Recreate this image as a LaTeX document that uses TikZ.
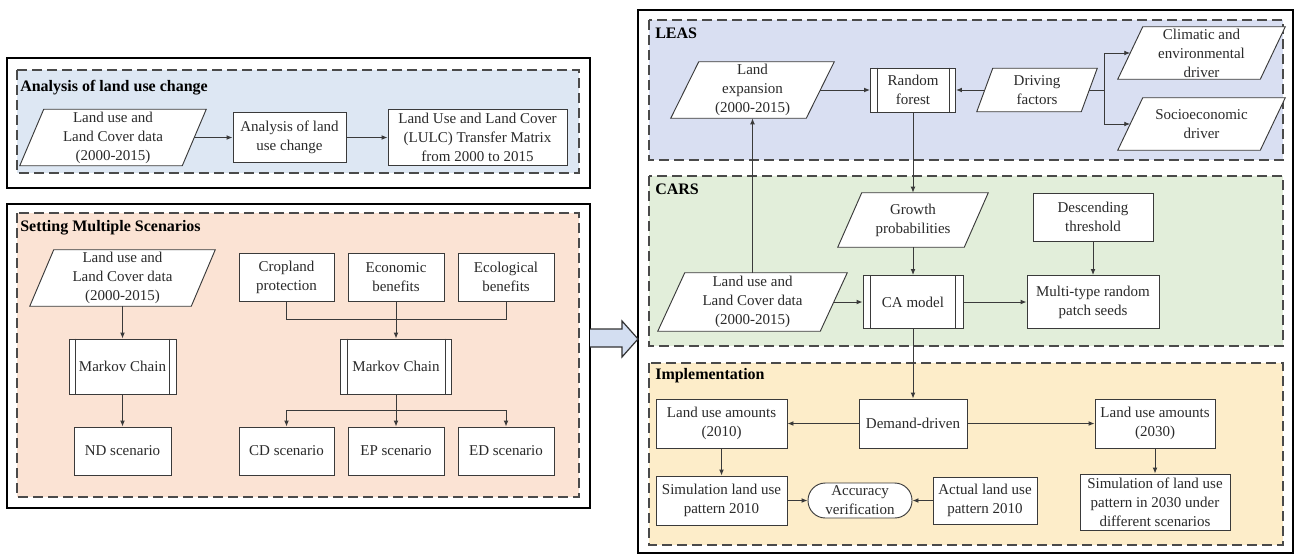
\documentclass[tikz,border=0pt]{standalone}
\usepackage{fontspec}
\setmainfont{Liberation Serif}
\usetikzlibrary{calc,arrows.meta}
\pgfdeclarelayer{bg}
\pgfdeclarelayer{mid}
\pgfsetlayers{bg,mid,main}
\definecolor{lc}{HTML}{3A3A3A}
\definecolor{tc}{HTML}{2A2A2A}
\definecolor{dc}{HTML}{4A4A4A}
\definecolor{fillA}{HTML}{DDE7F3}
\definecolor{fillS}{HTML}{FBE3D4}
\definecolor{fillL}{HTML}{D9DFF2}
\definecolor{fillC}{HTML}{E2EEDA}
\definecolor{fillI}{HTML}{FDEDC9}
\definecolor{arrowblue}{HTML}{D3DEF1}
\newcommand{\myfs}{\fontsize{11.25}{14.25}\selectfont}
\newcommand{\mytf}{\fontsize{12}{14}\selectfont}
\tikzset{
 box/.style={draw=lc, line width=0.7pt, fill=white, inner sep=0pt, align=center, font=\myfs, text=tc},
 ptxt/.style={inner sep=0pt, align=center, font=\myfs, text=tc},
 sz/.style 2 args={minimum width={#1*0.75pt}, minimum height={#2*0.75pt}},
 arr/.style={draw=lc, line width=0.7pt, -{Latex[length=4.5pt,width=3.6pt]}},
 ln/.style={draw=lc, line width=0.7pt},
 outerbox/.style={draw=black, line width=1.6pt},
 dashbox/.style={draw=dc, line width=1.1pt, dash pattern=on 7.5pt off 3.75pt},
 ttl/.style={anchor=west, inner sep=0pt, font=\bfseries\mytf, text=black}
}
\newcommand{\drawpara}[2]{%
 \begin{pgfonlayer}{mid}
 \draw[ln, fill=white] ($(#1.north west)+(#2,0)$) -- ($(#1.north east)+(#2,0)$) -- ($(#1.south east)-(#2,0)$) -- ($(#1.south west)-(#2,0)$) -- cycle;
 \end{pgfonlayer}}
\newcommand{\drawproc}[2]{%
 \draw[ln] ($(#1.north west)+(#2,0)$) -- ($(#1.south west)+(#2,0)$);
 \draw[ln] ($(#1.north east)-(#2,0)$) -- ($(#1.south east)-(#2,0)$);}
\begin{document}
\begin{tikzpicture}[x=0.75pt,y=-0.75pt]
\useasboundingbox (0,0) rectangle (1294,554);
\begin{pgfonlayer}{bg}
 \fill[white] (0,0) rectangle (1294,554);
 % left panels
 \draw[outerbox] (7,58) rectangle (590,188);
 \draw[dashbox, fill=fillA] (17,70) rectangle (579,173);
 \draw[outerbox] (7,204) rectangle (590,508);
 \draw[dashbox, fill=fillS] (17,213) rectangle (579,497);
 % right panel
 \draw[outerbox] (638,10) rectangle (1293,553);
 \draw[dashbox, fill=fillL] (649,20) rectangle (1283,160);
 \draw[dashbox, fill=fillC] (649,176) rectangle (1283,346);
 \draw[dashbox, fill=fillI] (649,363) rectangle (1283,545);
\end{pgfonlayer}

% ---------- Analysis of land use change ----------
\node[ttl] (t1) at (20,88) {Analysis of land use change};
\node[ptxt, sz={162}{56}] (p1) at (113,137.5) {Land use and\\Land Cover data\\(2000-2015)};
\drawpara{p1}{12}
\node[box, sz={113}{50}] (a1) at (289.5,137.5) {Analysis of land\\use change};
\node[box, sz={179}{56}] (m1) at (477.5,137.5) {Land Use and Land Cover\\(LULC) Transfer Matrix\\from 2000 to 2015};
\draw[arr] (p1.east) -- (a1.west);
\draw[arr] (a1.east) -- (m1.west);

% ---------- Setting Multiple Scenarios ----------
\node[ttl] (t2) at (20,228) {Setting Multiple Scenarios};
\node[ptxt, sz={161}{56}] (p2) at (122.5,278) {Land use and\\Land Cover data\\(2000-2015)};
\drawpara{p2}{12}
\node[box, sz={107}{55}] (mk1) at (122.5,366.5) {Markov Chain};
\drawproc{mk1}{7}
\node[box, sz={97}{48}] (nd) at (122.5,451) {ND scenario};
\draw[arr] (p2.south) -- (mk1.north);
\draw[arr] (mk1.south) -- (nd.north);

\node[box, sz={95}{48}] (cp) at (286.5,277) {Cropland\\protection};
\node[box, sz={96}{48}] (eb) at (396,277) {Economic\\benefits};
\node[box, sz={96}{48}] (ecb) at (506,277) {Ecological\\benefits};
\node[box, sz={111}{55}] (mk2) at (396,366.5) {Markov Chain};
\drawproc{mk2}{7}
\node[box, sz={95}{48}] (cd) at (286.5,451) {CD scenario};
\node[box, sz={96}{48}] (ep) at (396,451) {EP scenario};
\node[box, sz={96}{48}] (ed) at (506,451) {ED scenario};
\coordinate (jt) at (396,319);
\coordinate (jb) at (396,410);
\draw[ln] (cp.south) -- (cp.south |- jt) -- (ecb.south |- jt) -- (ecb.south);
\draw[arr] (eb.south) -- (mk2.north);
\draw[ln] (mk2.south) -- (jb);
\draw[ln] (cd.north |- jb) -- (ed.north |- jb);
\draw[arr] (cd.north |- jb) -- (cd.north);
\draw[arr] (jb) -- (ep.north);
\draw[arr] (ed.north |- jb) -- (ed.north);

% ---------- big arrow ----------
\draw[fill=arrowblue, draw=black!80, line width=0.9pt] (590,329) -- (622,329) -- (622,321) -- (638,339) -- (622,357) -- (622,347) -- (590,347);

% ---------- LEAS ----------
\node[ttl] (t3) at (655,33) {LEAS};
\node[ptxt, sz={135}{56}] (le) at (752.5,90) {Land\\expansion\\(2000-2015)};
\drawpara{le}{14}
\node[box, sz={85}{44}] (rf) at (913,90) {Random\\forest};
\drawproc{rf}{7}
\node[ptxt, sz={104}{43}] (df) at (1037,90) {Driving\\factors};
\drawpara{df}{8}
\node[ptxt, sz={142}{52}] (cl) at (1201.5,53) {Climatic and\\environmental\\driver};
\drawpara{cl}{12.5}
\node[ptxt, sz={142}{52}] (so) at (1201.5,124) {Socioeconomic\\driver};
\drawpara{so}{12.5}
\coordinate (jd) at (1104,90);
\draw[arr] (le.east) -- (rf.west);
\draw[arr] (df.west) -- (rf.east);
\draw[ln] (df.east) -- (jd);
\draw[arr] (jd) |- (cl.west);
\draw[arr] (jd) |- (so.west);

% ---------- CARS ----------
\node[ttl] (t4) at (655,189) {CARS};
\node[ptxt, sz={126}{54}] (gp) at (913,220) {Growth\\probabilities};
\drawpara{gp}{12}
\node[ptxt, sz={162}{58}] (lu) at (752.5,302) {Land use and\\Land Cover data\\(2000-2015)};
\drawpara{lu}{13.5}
\node[box, sz={100}{53}] (ca) at (913,302) {CA model};
\drawproc{ca}{8}
\node[box, sz={120}{48}] (dt) at (1093,217) {Descending\\threshold};
\node[box, sz={132}{53}] (mt) at (1093,302) {Multi-type random\\patch seeds};
\draw[arr] (rf.south) -- (gp.north);
\draw[arr] (gp.south) -- (ca.north);
\draw[arr] (lu.north) -- (le.south);
\draw[arr] (lu.east) -- (ca.west);
\draw[arr] (ca.east) -- (mt.west);
\draw[arr] (dt.south) -- (mt.north);

% ---------- Implementation ----------
\node[ttl] (t5) at (655,376) {Implementation};
\node[box, sz={108}{49}] (dd) at (913,423.5) {Demand-driven};
\node[box, sz={131}{49}] (la10) at (721.5,423.5) {Land use amounts\\(2010)};
\node[box, sz={120}{49}] (la30) at (1155,423.5) {Land use amounts\\(2030)};
\node[box, sz={131}{49}] (s10) at (721.5,500.5) {Simulation land use\\pattern 2010};
\node[box, sz={104}{35}, rounded corners=13pt] (av) at (860,500.5) {Accuracy\\verification};
\node[box, sz={104}{47}] (act) at (985,500.5) {Actual land use\\pattern 2010};
\node[box, sz={150}{56}] (s30) at (1155,502) {Simulation of land use\\pattern in 2030 under\\different scenarios};
\draw[arr] (ca.south) -- (dd.north);
\draw[arr] (dd.west) -- (la10.east);
\draw[arr] (dd.east) -- (la30.west);
\draw[arr] (la10.south) -- (s10.north);
\draw[arr] (s10.east) -- (av.west);
\draw[arr] (act.west) -- (av.east);
\draw[arr] (la30.south) -- (s30.north);
\end{tikzpicture}
\end{document}
